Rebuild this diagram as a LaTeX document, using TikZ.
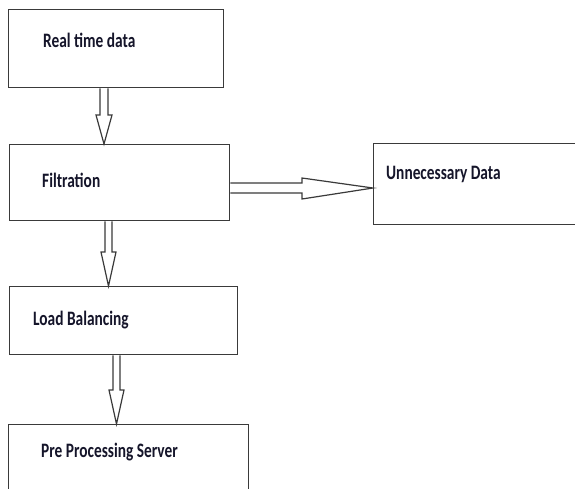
\documentclass[tikz,border=0pt]{standalone}
\usepackage{fontspec}
\setmainfont{Carlito}
\usetikzlibrary{calc}
\definecolor{edge}{HTML}{3A3A3A}
\definecolor{ink}{HTML}{15152A}
\tikzset{
  box/.style={draw=edge, line width=1.3pt, rectangle, inner sep=0pt, anchor=north west},
  lbl/.style={anchor=west, inner sep=0pt, text=ink, font=\fontsize{20.5}{24}\selectfont\bfseries},
  hollow/.style={draw=edge, line width=1.2pt, line join=miter, fill=white}
}
% squeeze the labels horizontally
\newcommand\lab[1]{\scalebox{0.75}[1]{#1}}
% hollow block arrow pointing down: #1 source node, #2 target node,
% #3 centre x, #4 shaft half-width, #5 head half-width, #6 neck y
\newcommand\flowdown[6]{%
  \draw[hollow] (#3-#4,0 |- #1.south) -- (#3-#4,#6) -- (#3-#5,#6)
    -- (#3,0 |- #2.north) -- (#3+#5,#6) -- (#3+#4,#6) -- (#3+#4,0 |- #1.south);}
\begin{document}
\begin{tikzpicture}[x=1pt,y=-1pt]
\useasboundingbox (0,0) rectangle (575,488);
\clip (0,0) rectangle (575,488);

% boxes
\node[box, minimum width=215pt, minimum height=78pt] (rt)  at (8,9) {};
\node[box, minimum width=220pt, minimum height=76pt] (flt) at (9,144) {};
\node[box, minimum width=212pt, minimum height=81pt] (un)  at (373,143) {};
\node[box, minimum width=228pt, minimum height=68pt] (lb)  at (9,286) {};
\node[box, minimum width=240pt, minimum height=80pt] (pps) at (8,424) {};

% labels
\node[lbl] (rtl)  at (43,40)   {\lab{Real time data}};
\node[lbl] (fltl) at (42,180)  {\lab{Filtration}};
\node[lbl] (unl)  at (386,174) {\lab{Unnecessary Data}};
\node[lbl] (lbl)  at (33,320)  {\lab{Load Balancing}};
\node[lbl] (ppsl) at (41,452)  {\lab{Pre Processing Server}};

% vertical flow arrows
\flowdown{rt}{flt}{104}{4}{8}{115}
\flowdown{flt}{lb}{108.5}{3.5}{7.5}{252}
\flowdown{lb}{pps}{116.5}{3.5}{7.5}{390}

% side arrow to the discarded data
\coordinate (nk) at (302,188);
\draw[hollow] (flt.east |- 0,183) -- (nk |- 0,183) -- (nk |- 0,178)
  -- (un.west |- 0,188) -- (nk |- 0,199) -- (nk |- 0,193) -- (flt.east |- 0,193);
\end{tikzpicture}
\end{document}
